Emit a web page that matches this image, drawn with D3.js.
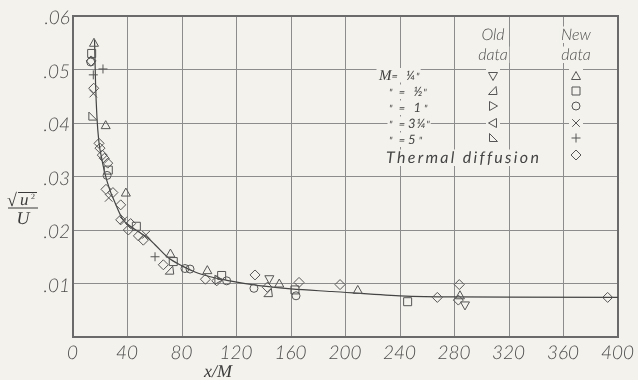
<!DOCTYPE html>
<html>
<head>
<meta charset="utf-8">
<script src="https://cdn.jsdelivr.net/npm/d3@7"></script>
<style>
  html, body { margin: 0; padding: 0; background: #f2f1ec; }
  svg { display: block; will-change: transform; }
  text { text-rendering: geometricPrecision; white-space: pre; }
  .lbl { font-family: Lato, "Open Sans", sans-serif; font-style: italic; font-weight: 300; fill: #4d4d4d; }
  .serif { font-family: "Liberation Serif", "DejaVu Serif", serif; font-style: italic; fill: #3a3a3a; }
</style>
</head>
<body>
<svg id="chart" width="638" height="380"></svg>
<script>
// ---- axis ticks ----
const xTicks = [0, 40, 80, 120, 160, 200, 240, 280, 320, 360, 400];
const yTicks = [0, 0.01, 0.02, 0.03, 0.04, 0.05, 0.06];

// ---- new data, [x/M, sqrt(u'^2)/U] ----
const newQuarterInch = [[15.4, 0.0550], [24.0, 0.0396], [38.8, 0.0270], [71.5, 0.0156], [98.6, 0.0125],
  [151.4, 0.0100], [209.0, 0.0088], [284.0, 0.0078]];
const newHalfInch = [[13.7, 0.0530], [25.9, 0.0312], [46.5, 0.0207], [73.6, 0.0141], [109.1, 0.0115],
  [162.9, 0.0088], [245.6, 0.0066]];
const newOneInch = [[13.0, 0.0514], [25.0, 0.0302], [82.2, 0.0128], [85.9, 0.0127], [112.8, 0.0105],
  [132.8, 0.0091], [163.7, 0.0077]];
const newThreeQuarterInch = [[14.9, 0.0455], [26.2, 0.0260], [37.0, 0.0218], [53.6, 0.0191]];
const newFiveInch = [[14.9, 0.0490], [22.0, 0.0501], [60.2, 0.0150]];
const thermalDiffusion = [[13.3, 0.0516], [15.2, 0.0465], [19.1, 0.0362], [19.8, 0.0353], [21.5, 0.0340],
  [23.0, 0.0334], [25.5, 0.0325], [24.2, 0.0276], [29.3, 0.0270], [35.0, 0.0247], [35.0, 0.0219],
  [40.6, 0.0200], [42.3, 0.0212], [48.0, 0.0189], [51.6, 0.0181], [66.3, 0.0135], [97.2, 0.0108],
  [105.5, 0.0105], [133.6, 0.0116], [142.6, 0.0093], [165.9, 0.0102], [196.0, 0.0098],
  [267.4, 0.0074], [283.5, 0.0098], [282.8, 0.0069], [392.4, 0.0074]];

// ---- old data ----
const oldQuarterInch = [[144.1, 0.0108], [287.7, 0.0059]];
const oldHalfInch = [[71.0, 0.0124], [143.4, 0.0082]];
const oldOneInch = [[106.7, 0.0107]];
const oldThreeQuarterInch = [];
const oldFiveInch = [[14.2, 0.0412]];

// ---- faired decay curve ----
const curveX = [15.8, 16.6, 17.6, 19, 21, 23, 27, 31, 36, 45, 55, 60, 70, 80, 90, 100, 115, 140, 160,
  190, 240, 280, 400];
const curveY = [0.0555, 0.047, 0.041, 0.0365, 0.0335, 0.031, 0.0275, 0.0250, 0.0222, 0.0202, 0.0185,
  0.0173, 0.0148, 0.0133, 0.0121, 0.0113, 0.0105, 0.0095, 0.0090, 0.0085, 0.0077, 0.0075, 0.0074];

// ---- legend labels: [ditto / prefix, equals, size value, closing mark] ----
const legendRows = [["M", "= ", "¼", "\""], ["\"", " = ", "½", "\""], ["\"", " = ", "1", " \""],
  ["\"", " =", "3¼", "\""], ["\"", " =", "5", " \""]];
const thermalLabel = "Thermal diffusion";
const headerOld = ["Old", "data"];
const headerNew = ["New", "data"];

const W = 638, H = 380;
const BG = "#f3f2ed";
const svg = d3.select("#chart");
svg.append("rect").attr("width", W).attr("height", H).attr("fill", BG);

const x = d3.scaleLinear().domain([0, 400]).range([73, 618]);
const y = d3.scaleLinear().domain([0, 0.06]).range([337, 16]);

const ink = "#555";

// grid
const grid = svg.append("g").attr("stroke", "#8c8c8c").attr("stroke-width", 1).attr("shape-rendering", "crispEdges");
grid.selectAll(".vx").data(xTicks).join("line")
  .attr("x1", d => x(d)).attr("x2", d => x(d)).attr("y1", y(0)).attr("y2", y(0.06));
grid.selectAll(".hy").data(yTicks).join("line")
  .attr("y1", d => y(d)).attr("y2", d => y(d)).attr("x1", x(0)).attr("x2", x(400));
svg.append("rect").attr("x", x(0)).attr("y", y(0.06)).attr("width", x(400) - x(0)).attr("height", y(0) - y(0.06))
  .attr("fill", "none").attr("stroke", "#6a6a6a").attr("stroke-width", 1.2).attr("shape-rendering", "crispEdges");

// axes (labels only; frame drawn above)
const xAxis = d3.axisBottom(x).tickValues(xTicks).tickSize(0).tickPadding(0).tickFormat(d3.format("d"));
const gx = svg.append("g").attr("transform", `translate(0,${y(0)})`).call(xAxis);
gx.select(".domain").remove();
gx.selectAll("text").attr("class", "lbl").attr("font-size", 19).attr("dy", null).attr("y", 22)
  .attr("fill", null).attr("dx", -1);

const yAxis = d3.axisLeft(y).tickValues(yTicks.filter(d => d > 0)).tickSize(0).tickPadding(0)
  .tickFormat(d => "." + String(Math.round(d * 100)).padStart(2, "0"));
const gy = svg.append("g").attr("transform", `translate(${x(0) - 3},0)`).call(yAxis);
gy.select(".domain").remove();
gy.selectAll("text").attr("class", "lbl").attr("font-size", 19).attr("dy", "0.4em").attr("fill", null);

// axis titles
const yt = svg.append("g").attr("class", "serif");
yt.append("text").attr("x", 7).attr("y", 206).attr("font-size", 18).style("font-style", "normal").text("√");
yt.append("line").attr("x1", 18).attr("x2", 37).attr("y1", 192.5).attr("y2", 192.5).attr("stroke", "#3a3a3a").attr("stroke-width", 1);
yt.append("text").attr("x", 20).attr("y", 205).attr("font-size", 17).text("u");
yt.append("text").attr("x", 31).attr("y", 199).attr("font-size", 8).style("font-style", "normal").text("2");
yt.append("line").attr("x1", 8).attr("x2", 38).attr("y1", 208).attr("y2", 208).attr("stroke", "#3a3a3a").attr("stroke-width", 1);
yt.append("text").attr("x", 23).attr("y", 224).attr("font-size", 18).attr("text-anchor", "middle").text("U");

svg.append("text").attr("class", "serif").attr("x", 218).attr("y", 377).attr("font-size", 18)
  .attr("text-anchor", "middle").text("x/M");

// symbol shapes
const shapes = {
  up: "M0,-4.5L4.5,3.5L-4.5,3.5Z",
  down: "M0,4.5L4.5,-3.5L-4.5,-3.5Z",
  rightAngle: "M-4.5,3.5L4,3.5L3,-4.5Z",
  right: "M-3.5,-4.5L4.5,0L-3.5,4.5Z",
  left: "M3.5,-4.5L-4.5,0L3.5,4.5Z",
  lowerLeft: "M-3.5,-4.5L-3.5,3.5L4.5,3.5Z",
  square: "M-4,-4H4V4H-4Z",
  circle: "M-4,0A4,4 0 1,0 4,0A4,4 0 1,0 -4,0Z",
  cross: "M-3.8,-3.8L3.8,3.8M-3.8,3.8L3.8,-3.8",
  plus: "M-4.5,0H4.5M0,-4.5V4.5",
  diamond: "M0,-5L5,0L0,5L-5,0Z"
};

// ---- legend ----
// Grid lines are masked behind each legend line; the mask boxes are measured on a
// scratch text, then each block is set as one multi-line text element.
const leg = svg.append("g");
const legBg = leg.append("g");
const legFg = leg.append("g");

function fillLine(sel, spec) {
  spec.forEach(s => {
    const t = sel.append("tspan").text(s.t);
    if (s.size) t.attr("font-size", s.size);
    if (s.ls) t.attr("letter-spacing", s.ls);
    if (s.cls) t.attr("class", s.cls);
  });
}
function maskFor(spec, lx, ly, anchor, baseSize, padX, capH) {
  const tmp = legFg.append("text").attr("class", "lbl").attr("x", lx).attr("y", ly)
    .attr("font-size", baseSize).attr("text-anchor", anchor);
  fillLine(tmp, spec);
  const b = tmp.node().getBBox();
  tmp.remove();
  // mask only the glyph band, not the full line box
  legBg.append("rect").attr("x", b.x - padX).attr("y", ly - capH - 1.5)
    .attr("width", b.width + 2 * padX).attr("height", capH + 4.5).attr("fill", BG);
}
function block(lines, anchor, baseSize, weight) {
  lines.forEach(l => maskFor(l.spec, l.x, l.y, anchor, l.size || baseSize, 1.5, l.cap));
  const txt = legFg.append("text").attr("class", "lbl").attr("font-size", baseSize).attr("text-anchor", anchor);
  if (weight) txt.style("font-weight", weight).style("fill", "#444");
  lines.forEach(l => {
    const ln = txt.append("tspan").attr("x", l.x).attr("y", l.y);
    if (l.size) ln.attr("font-size", l.size);
    fillLine(ln, l.spec);
  });
}

// column headers
[[headerOld, 493], [headerNew, 576]].forEach(([lines, lx]) => {
  block(lines.map((t, k) => ({ x: lx, y: k === 0 ? 40 : 60, cap: 12, spec: [{ t }] })), "middle", 16);
});

// size rows and thermal-diffusion row
const textBase = [79.5, 96, 112, 128, 144];
const rowLines = legendRows.map((p, i) => ({
  x: i === 0 ? 379 : 389,
  y: textBase[i],
  cap: 10,
  spec: [
    i === 0 ? { t: p[0], size: 15, cls: "serif" } : { t: p[0], size: 10, ls: 1 },
    { t: p[1], size: 11, ls: 2.8 },
    { t: p[2], size: 13, ls: 0.8 },
    { t: p[3], size: 10 }
  ]
}));
rowLines.push({ x: 386, y: 163, size: 16, cap: 12, spec: [{ t: thermalLabel, ls: 2.3 }] });
block(rowLines, "start", 11, 400);

// legend symbols
const rowY = [76, 91, 106, 123, 138, 155];
const oldShapes = ["down", "rightAngle", "right", "left", "lowerLeft", null];
const newShapes = ["up", "square", "circle", "cross", "plus", "diamond"];
rowY.forEach((ry, i) => {
  [[oldShapes[i], 493], [newShapes[i], 576]].forEach(([s, sx]) => {
    if (!s) return;
    legBg.append("rect").attr("x", sx - 7).attr("y", ry - 7).attr("width", 14).attr("height", 14).attr("fill", BG);
    legFg.append("path").attr("d", shapes[s]).attr("transform", `translate(${sx},${ry})`)
      .attr("fill", "none").attr("stroke", ink).attr("stroke-width", 1);
  });
});

// faired curve
const curvePts = curveX.map((v, i) => [v, curveY[i]]);
svg.append("path").datum(curvePts)
  .attr("d", d3.line().x(d => x(d[0])).y(d => y(d[1])).curve(d3.curveMonotoneX))
  .attr("fill", "none").attr("stroke", "#444").attr("stroke-width", 1.2);

// data points
const seriesList = [
  [newQuarterInch, "up"], [newHalfInch, "square"], [newOneInch, "circle"],
  [newThreeQuarterInch, "cross"], [newFiveInch, "plus"], [thermalDiffusion, "diamond"],
  [oldQuarterInch, "down"], [oldHalfInch, "rightAngle"], [oldOneInch, "right"],
  [oldThreeQuarterInch, "left"], [oldFiveInch, "lowerLeft"]
];
const pts = svg.append("g").attr("fill", "none").attr("stroke", ink).attr("stroke-width", 1);
seriesList.forEach(([data, s]) => {
  pts.append("g").selectAll("path").data(data).join("path")
    .attr("d", shapes[s])
    .attr("transform", d => `translate(${x(d[0])},${y(d[1])})`);
});
</script>
</body>
</html>
